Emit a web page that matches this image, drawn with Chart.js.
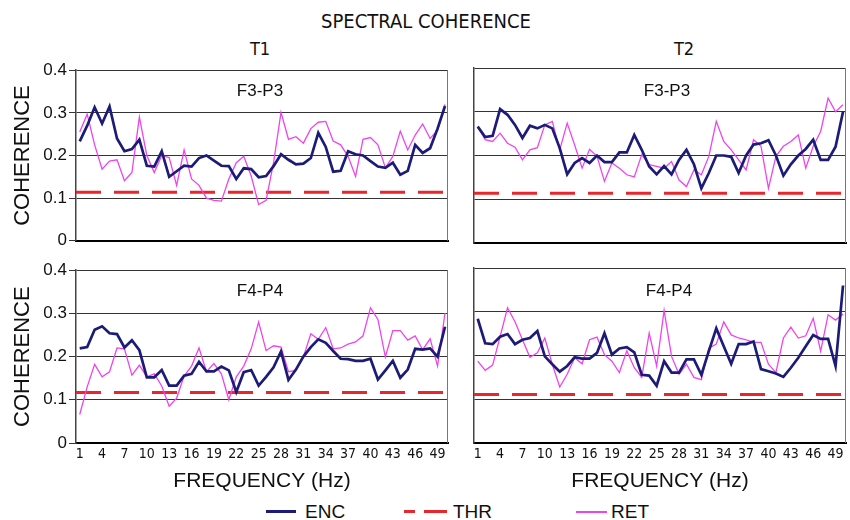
<!DOCTYPE html>
<html>
<head>
<meta charset="utf-8">
<script src="https://cdn.jsdelivr.net/npm/chart.js@4.4.1/dist/chart.umd.min.js"></script>
<style>
  body { margin: 0; background: #fff; width: 850px; height: 520px; position: relative; overflow: hidden;
         font-family: 'Liberation Sans', Arial, sans-serif; color: #111; }
  .box { position: absolute; }
  .narrow { font-family: 'Liberation Sans Narrow', 'DejaVu Sans Condensed', 'Arial Narrow', sans-serif; }
  .txt { position: absolute; white-space: nowrap; transform: translate(-50%, -50%); }
  .ltxt { position: absolute; white-space: nowrap; transform: translateY(-50%); }
  .sw { position: absolute; }
</style>
</head>
<body>
<div class="txt narrow" style="left:426px;top:21px;font-size:20px">SPECTRAL COHERENCE</div>
<div class="txt narrow" style="left:260px;top:48px;font-size:18px">T1</div>
<div class="txt narrow" style="left:684px;top:48px;font-size:18px">T2</div>

<div class="box" style="left:0;top:58px"><canvas id="tl" width="452" height="195"></canvas></div>
<div class="box" style="left:468px;top:58px"><canvas id="tr" width="382" height="195"></canvas></div>
<div class="box" style="left:0;top:258px"><canvas id="bl" width="452" height="242"></canvas></div>
<div class="box" style="left:468px;top:258px"><canvas id="br" width="382" height="242"></canvas></div>

<div class="txt" style="left:260px;top:91px;font-size:17px">F3-P3</div>
<div class="txt" style="left:667px;top:91px;font-size:17px">F3-P3</div>
<div class="txt" style="left:260px;top:291px;font-size:17px">F4-P4</div>
<div class="txt" style="left:669px;top:291px;font-size:17px">F4-P4</div>

<div class="sw" style="left:266px;top:510px;width:30px;height:3px;background:#1c1c78"></div>
<div class="ltxt" style="left:305px;top:512px;font-size:19px">ENC</div>
<div class="sw" style="left:404px;top:510px;width:11px;height:3px;background:#e8262c"></div>
<div class="sw" style="left:424px;top:510px;width:23px;height:3px;background:#e8262c"></div>
<div class="ltxt" style="left:453px;top:512px;font-size:19px">THR</div>
<div class="sw" style="left:576px;top:511px;width:31px;height:2px;background:#ee44ee"></div>
<div class="ltxt" style="left:611px;top:512px;font-size:19px">RET</div>

<script>
const FREQ = [1,2,3,4,5,6,7,8,9,10,11,12,13,14,15,16,17,18,19,20,21,22,23,24,25,
              26,27,28,29,30,31,32,33,34,35,36,37,38,39,40,41,42,43,44,45,46,47,48,49,50];
const TICK_LABELS = [1,4,7,10,13,16,19,22,25,28,31,34,37,40,43,46,49];

// T1, F3-P3
const t1F3Enc = [0.233,0.27,0.313,0.275,0.315,0.24,0.21,0.215,0.237,0.176,
                 0.174,0.21,0.15,0.163,0.176,0.174,0.194,0.2,0.188,0.176,
                 0.175,0.145,0.17,0.168,0.149,0.152,0.175,0.203,0.19,0.179,
                 0.181,0.194,0.253,0.22,0.162,0.164,0.21,0.203,0.2,0.187,
                 0.174,0.171,0.183,0.155,0.164,0.225,0.206,0.217,0.263,0.316];
const t1F3Ret = [0.255,0.297,0.225,0.168,0.187,0.19,0.141,0.16,0.29,0.2,
                 0.16,0.2,0.195,0.13,0.213,0.145,0.13,0.1,0.095,0.093,
                 0.145,0.183,0.198,0.152,0.085,0.095,0.183,0.301,0.238,0.244,
                 0.229,0.263,0.278,0.28,0.234,0.225,0.198,0.151,0.238,0.242,
                 0.225,0.171,0.198,0.257,0.213,0.248,0.274,0.24,0.259,0.32];
// T2, F3-P3
const t2F3Enc = [0.266,0.242,0.245,0.306,0.293,0.27,0.24,0.268,0.262,0.27,
                 0.262,0.217,0.157,0.183,0.194,0.183,0.2,0.185,0.185,0.207,
                 0.207,0.247,0.213,0.175,0.157,0.176,0.157,0.19,0.213,0.18,
                 0.125,0.16,0.2,0.2,0.197,0.16,0.2,0.225,0.228,0.235,
                 0.2,0.154,0.18,0.2,0.215,0.236,0.19,0.19,0.22,0.3];
const t2F3Ret = [0.266,0.236,0.232,0.251,0.228,0.219,0.19,0.213,0.218,0.27,
                 0.278,0.213,0.274,0.224,0.171,0.214,0.198,0.141,0.183,0.171,
                 0.156,0.151,0.202,0.179,0.175,0.171,0.186,0.144,0.129,0.167,
                 0.156,0.198,0.278,0.232,0.213,0.19,0.167,0.236,0.221,0.125,
                 0.198,0.221,0.232,0.247,0.171,0.221,0.255,0.331,0.3,0.316];
// T1, F4-P4
const t1F4Enc = [0.219,0.222,0.262,0.27,0.254,0.252,0.221,0.238,0.215,0.152,
                 0.152,0.169,0.133,0.133,0.156,0.16,0.188,0.166,0.166,0.177,
                 0.168,0.118,0.164,0.169,0.133,0.153,0.175,0.212,0.146,0.17,
                 0.2,0.222,0.24,0.232,0.213,0.195,0.194,0.19,0.19,0.195,
                 0.147,0.168,0.19,0.151,0.17,0.218,0.216,0.219,0.2,0.269];
const t1F4Ret = [0.066,0.13,0.182,0.153,0.165,0.22,0.218,0.157,0.18,0.153,
                 0.16,0.132,0.085,0.104,0.155,0.178,0.22,0.165,0.184,0.16,
                 0.1,0.153,0.178,0.218,0.28,0.214,0.225,0.222,0.165,0.168,
                 0.199,0.253,0.24,0.267,0.218,0.22,0.229,0.234,0.248,0.313,
                 0.286,0.199,0.26,0.26,0.238,0.248,0.216,0.241,0.178,0.301];
// T2, F4-P4
const t2F4Enc = [0.284,0.228,0.226,0.243,0.249,0.226,0.236,0.24,0.256,0.198,
                 0.18,0.163,0.176,0.196,0.193,0.193,0.206,0.251,0.202,0.216,
                 0.219,0.207,0.156,0.154,0.131,0.187,0.161,0.161,0.191,0.191,
                 0.156,0.21,0.262,0.221,0.181,0.226,0.226,0.232,0.169,0.164,
                 0.159,0.151,0.172,0.195,0.221,0.247,0.238,0.238,0.176,0.36];
const t2F4Ret = [0.187,0.166,0.178,0.243,0.309,0.277,0.236,0.196,0.206,0.24,
                 0.18,0.128,0.157,0.195,0.181,0.236,0.242,0.202,0.187,0.161,
                 0.211,0.172,0.15,0.251,0.176,0.303,0.198,0.157,0.18,0.15,
                 0.145,0.217,0.226,0.277,0.247,0.24,0.236,0.23,0.23,0.18,
                 0.161,0.24,0.265,0.24,0.245,0.285,0.21,0.293,0.281,0.295];

// threshold per panel
const thrT1F3 = 0.114, thrT2F3 = 0.114, thrT1F4 = 0.117, thrT2F4 = 0.111;

const X_MIN = 0.5, X_MAX = 50.4;
const ENC_COLOR = '#1c1c78', RET_COLOR = '#ee44ee', THR_COLOR = '#e8262c';
const SANS = "'Liberation Sans', Arial, sans-serif";
const NARROW = "'Liberation Sans Narrow', 'DejaVu Sans Condensed', 'Arial Narrow', sans-serif";

// gray right edge of each panel
const frameEdges = {
  id: 'frameEdges',
  afterDraw(chart) {
    const {ctx, chartArea: {top, right, bottom}} = chart;
    ctx.save();
    ctx.strokeStyle = '#777';
    ctx.lineWidth = 1;
    ctx.beginPath();
    ctx.moveTo(right - 0.5, top);
    ctx.lineTo(right - 0.5, bottom);
    ctx.stroke();
    ctx.restore();
  }
};

function pts(vals) {
  return FREQ.map((f, i) => ({x: f, y: vals[i]}));
}

function panel(id, enc, ret, thr, showY, showX) {
  return new Chart(document.getElementById(id), {
    type: 'line',
    data: {
      datasets: [
        {label: 'ENC', data: pts(enc), borderColor: ENC_COLOR, borderWidth: 2.7, pointRadius: 0, tension: 0},
        {label: 'RET', data: pts(ret), borderColor: RET_COLOR, borderWidth: 1.3, pointRadius: 0, tension: 0},
        {label: 'THR', data: [{x: X_MIN, y: thr}, {x: X_MAX, y: thr}], borderColor: THR_COLOR,
         borderWidth: 3, borderDash: [25, 13], pointRadius: 0}
      ]
    },
    options: {
      responsive: false,
      animation: false,
      events: [],
      layout: {padding: {top: 10, right: 4, bottom: showX ? 0 : 10, left: 0}},
      plugins: {legend: {display: false}, tooltip: {enabled: false}},
      scales: {
        x: {
          type: 'linear', min: X_MIN, max: X_MAX,
          afterBuildTicks: s => { s.ticks = TICK_LABELS.map(v => ({value: v})); },
          afterFit: s => { s.height = showX ? 57 : 0; },
          grid: {display: false, drawTicks: false},
          border: {display: true, color: '#000', width: 2},
          ticks: {display: showX, autoSkip: false, maxRotation: 0, padding: 3, color: '#111',
                  font: {family: NARROW, size: 14}},
          title: {display: showX, text: 'FREQUENCY (Hz)', color: '#111',
                  font: {family: SANS, size: 21}, padding: {top: 0, bottom: 6}}
        },
        y: {
          min: 0, max: 0.4,
          afterFit: s => { s.width = showY ? 76 : 6; },
          grid: {color: '#333', lineWidth: 1, drawTicks: showY, tickLength: 7},
          border: {display: true, color: '#444', width: 1.5},
          ticks: {display: showY, stepSize: 0.1, padding: 2, color: '#111', font: {family: SANS, size: 17}},
          title: {display: showY, text: 'COHERENCE', color: '#111',
                  font: {family: SANS, size: 22}, padding: {top: 10, bottom: 0}}
        }
      }
    },
    plugins: [frameEdges]
  });
}

panel('tl', t1F3Enc, t1F3Ret, thrT1F3, true, false);
panel('tr', t2F3Enc, t2F3Ret, thrT2F3, false, false);
panel('bl', t1F4Enc, t1F4Ret, thrT1F4, true, true);
panel('br', t2F4Enc, t2F4Ret, thrT2F4, false, true);
</script>
</body>
</html>
